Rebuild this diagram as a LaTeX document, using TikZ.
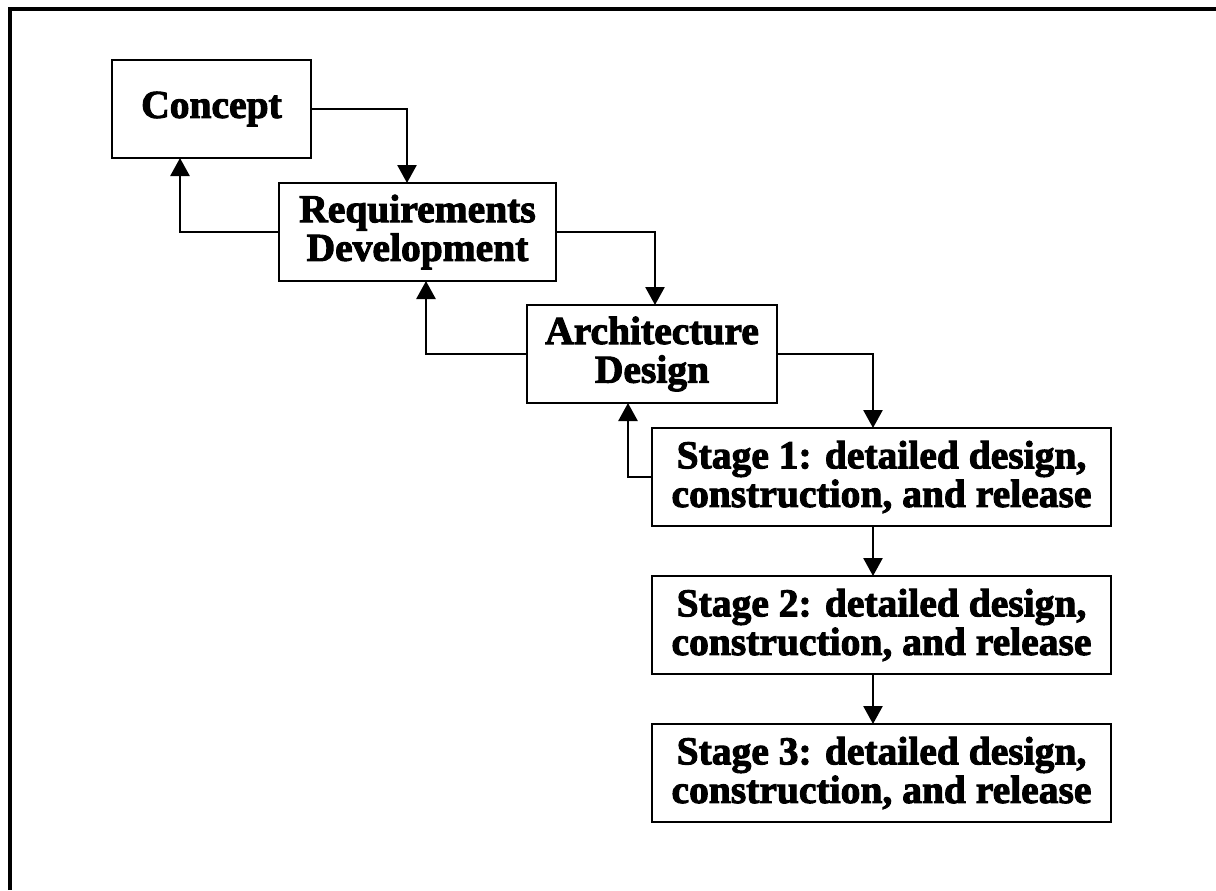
\documentclass[tikz,border=0pt]{standalone}
\usepackage{fontspec}
\setmainfont{Liberation Serif}[BoldFeatures={FakeBold=2.5}]
\usepackage{tikz}
\usetikzlibrary{positioning, arrows.meta}

\begin{document}
\begin{tikzpicture}[
			box/.style={draw, rectangle, line width=1.4pt, outer sep=0pt, minimum height=1.96cm, inner sep=0pt, align=center, font=\fontsize{22.5}{22}\selectfont\bfseries},
			arrow/.style={-{Triangle[length=0.36cm, width=0.38cm]}, line width=1.5pt},
			frame/.style={line width=1.8pt}
		]

		\useasboundingbox (0,0) rectangle (24.32,-17.8);

		% Outer frame (only top and left edges show)
		\coordinate (framebl) at (0.2,-17.8);
		\coordinate (frametr) at (24.32,-0.18);
		\draw[frame] (framebl) |- (frametr);

		% Staircase
		\node[box, minimum width=3.98cm, anchor=north west] (concept) at (2.24,-1.2) {Concept};
		\node[box, minimum width=5.54cm, below right=0.5cm and -0.64cm of concept] (req) {Requirements\\Development};
		\node[box, minimum width=5.0cm, below right=0.48cm and -0.58cm of req] (arch) {Architecture\\Design};

		% Stages
		\node[box, minimum width=9.18cm, below right=0.5cm and -2.5cm of arch] (stage1) {Stage 1: detailed design,\\construction, and release};
		\node[box, minimum width=9.18cm, below=1cm of stage1] (stage2) {Stage 2: detailed design,\\construction, and release};
		\node[box, minimum width=9.18cm, below=1cm of stage2] (stage3) {Stage 3: detailed design,\\construction, and release};

		% Forward arrows
		\draw[arrow] (concept.east) -| ([xshift=-0.21cm]req.north);
		\draw[arrow] (req.east) -| ([xshift=0.06cm]arch.north);
		\draw[arrow] (arch.east) -| ([xshift=-0.17cm]stage1.north);
		\draw[arrow] ([xshift=-0.17cm]stage1.south) -- ([xshift=-0.17cm]stage2.north);
		\draw[arrow] ([xshift=-0.17cm]stage2.south) -- ([xshift=-0.17cm]stage3.north);

		% Feedback arrows
		\draw[arrow] (req.west) -| ([xshift=-0.63cm]concept.south);
		\draw[arrow] (arch.west) -| ([xshift=0.17cm]req.south);
		\draw[arrow] (stage1.west) -| ([xshift=-0.48cm]arch.south);

		\end{tikzpicture}
\end{document}
